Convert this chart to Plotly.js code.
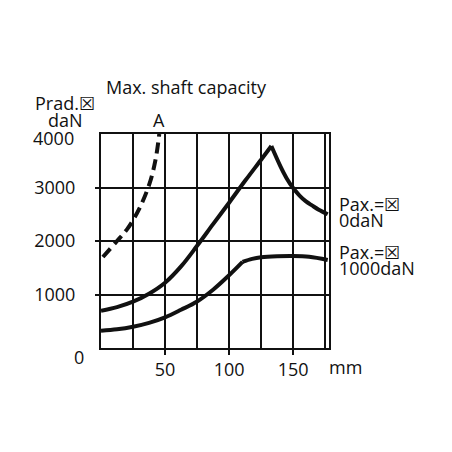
<!DOCTYPE html>
<html>
<head>
<meta charset="utf-8">
<script src="https://cdn.plot.ly/plotly-3.0.1.min.js"></script>
<style>html,body{margin:0;padding:0;background:#fff;}#chart{width:452px;height:452px;}</style>
</head>
<body>
<div id="chart"></div>
<script>
// Data (x in mm, y in daN)
const pax0RiseX = [0, 12.5, 25, 37.5, 50, 62.5, 75, 87.5, 100, 112.5, 125, 133];
const pax0RiseY = [697, 765, 866, 1015, 1220, 1525, 1910, 2315, 2716, 3125, 3520, 3775];
const pax0FallX = [133, 140, 145, 150, 155, 160, 165, 170, 177];
const pax0FallY = [3775, 3400, 3170, 2990, 2850, 2740, 2660, 2585, 2500];

const pax1000RiseX = [0, 12.5, 25, 37.5, 50, 62.5, 75, 87.5, 100, 110.5];
const pax1000RiseY = [323, 350, 398, 470, 573, 715, 870, 1090, 1360, 1610];
const pax1000FlatX = [110.5, 118, 125, 137.5, 150, 162.5, 177];
const pax1000FlatY = [1610, 1665, 1695, 1715, 1720, 1705, 1645];

const curveAX = [1.5, 12.5, 21, 30, 38, 42.5, 45.5];
const curveAY = [1700, 2000, 2240, 2610, 3080, 3510, 4000];

const xTickVals = [50, 100, 150];
const xTickText = ['50', '100', '150'];
const yTickVals = [1000, 2000, 3000];
const yTickText = ['1000', '2000', '3000'];

const FONT = 'Open Sans, Noto Sans, sans-serif';
const FS = 18;
const solid = {color: '#111', width: 4};
function tr(x, y, line, shape) {
  return {x: x, y: y, mode: 'lines', type: 'scatter', line: Object.assign({shape: shape || 'spline', smoothing: 1}, line), hoverinfo: 'skip', showlegend: false};
}
const data = [
  tr(pax0RiseX, pax0RiseY, solid),
  tr(pax0FallX, pax0FallY, solid),
  tr(pax1000RiseX, pax1000RiseY, solid),
  tr(pax1000FlatX, pax1000FlatY, solid),
  tr(curveAX, curveAY, {color: '#111', width: 4, dash: '11px,6px'})
];

// layout helpers: pixel -> paper
const L = 101, R = 329, T = 134, B = 348;
const px = p => (p - L) / (R - L);
const py = p => (B - p) / (B - T);
function txt(text, x, y, xanchor) {
  return {text: text, xref: 'paper', yref: 'paper', x: px(x), y: py(y), xanchor: xanchor || 'left', yanchor: 'middle', showarrow: false, font: {family: FONT, size: FS, color: '#111'}};
}

const layout = {
  width: 452, height: 452,
  margin: {l: L, r: 452 - R, t: T, b: 452 - B, pad: 0},
  paper_bgcolor: '#fff', plot_bgcolor: '#fff',
  font: {family: FONT, size: FS, color: '#111'},
  title: {text: 'Max. shaft capacity', x: 186 / 452, xanchor: 'center', xref: 'container', y: 1 - 88 / 452, yanchor: 'middle', yref: 'container', font: {family: FONT, size: FS, color: '#111'}},
  xaxis: {
    range: [0, 178], showline: true, mirror: true, linecolor: '#111', linewidth: 2,
    zeroline: false, showgrid: true, gridcolor: '#111', gridwidth: 2,
    tickmode: 'array', tickvals: xTickVals, ticktext: xTickText,
    ticks: 'outside', ticklen: 5, tickwidth: 2, tickcolor: '#111',
    minor: {dtick: 25, tick0: 0, showgrid: true, gridcolor: '#111', gridwidth: 2},
    ticklabelstandoff: -1,
    tickfont: {family: FONT, size: FS, color: '#111'}
  },
  yaxis: {
    range: [0, 4000], showline: true, mirror: true, linecolor: '#111', linewidth: 2,
    zeroline: false, showgrid: true, gridcolor: '#111', gridwidth: 2,
    tickmode: 'array', tickvals: yTickVals, ticktext: yTickText,
    ticks: 'outside', ticklen: 4, tickwidth: 2, tickcolor: '#111',
    ticklabelstandoff: 16,
    tickfont: {family: FONT, size: FS, color: '#111'}
  },
  annotations: [
    txt('Prad.\u2612', 33, 103),
    txt('daN', 46, 120),
    txt('4000', 76, 137.5, 'right'),
    txt('0', 86, 357, 'right'),
    txt('A', 159, 120, 'center'),
    txt('mm', 345, 367, 'center'),
    txt('Pax.=\u2612', 337, 204),
    txt('0daN', 337, 220),
    txt('Pax.=\u2612', 337, 252),
    txt('1000daN', 337, 268)
  ]
};

Plotly.newPlot('chart', data, layout, {staticPlot: true, displayModeBar: false});
</script>
</body>
</html>
